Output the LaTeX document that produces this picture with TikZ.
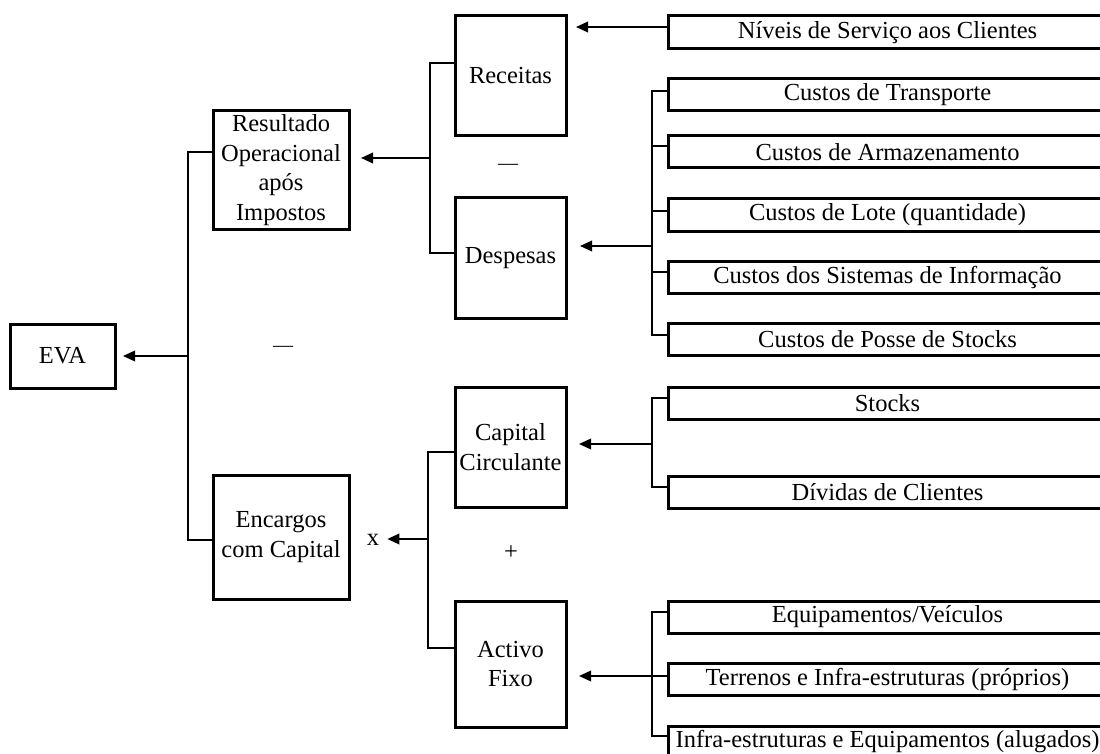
\documentclass[tikz,border=0pt]{standalone}
\usepackage{fontspec}
\setmainfont{Liberation Serif}
\usetikzlibrary{arrows.meta}
\begin{document}
\begin{tikzpicture}[x=1pt,y=-1pt,
  every node/.style={font=\fontsize{24.5}{29.5}\selectfont},
  box/.style={draw, line width=3pt, inner sep=0pt, outer sep=0pt, align=center, anchor=north west},
  item/.style={draw, line width=3pt, inner sep=0pt, outer sep=0pt, anchor=north west,
    minimum width=439pt, minimum height=32pt},
  link/.style={line width=1.3pt},
  arr/.style={line width=2pt, -{Triangle[length=12pt,width=10.5pt]}},
  sign/.style={inner sep=0pt},
]
\useasboundingbox (0,0) rectangle (1100,754);
\clip (0,0) rectangle (1100,754);

% main blocks
\node[box, minimum width=105pt, minimum height=64pt]  (eva)  at (10,324)  {EVA};
\node[box, minimum width=136pt, minimum height=118pt] (res)  at (213,111) {Resultado\\Operacional\\após\\Impostos};
\node[box, minimum width=136pt, minimum height=124pt] (enc)  at (213,475) {Encargos\\com Capital};
\node[box, minimum width=111pt, minimum height=120pt] (rec)  at (455,16)  {Receitas};
\node[box, minimum width=111pt, minimum height=120pt] (desp) at (455,198) {Despesas};
\node[box, minimum width=111pt, minimum height=120pt] (circ) at (455,387) {Capital\\Circulante};
\node[box, minimum width=111pt, minimum height=126pt] (fix)  at (455,601) {Activo\\Fixo};

% drivers
\node[item, minimum height=33pt] (niv) at (668,16) {Níveis de Serviço aos Clientes};
\node[item] (c1) at (668,79)  {Custos de Transporte};
\node[item] (c2) at (668,136) {Custos de Armazenamento};
\node[item] (c3) at (668,199) {Custos de Lote (quantidade)};
\node[item] (c4) at (668,261) {Custos dos Sistemas de Informação};
\node[item] (c5) at (668,323) {Custos de Posse de Stocks};
\node[item] (s1) at (668,387) {Stocks};
\node[item] (s2) at (668,476) {Dívidas de Clientes};
\node[item] (e1) at (668,601) {Equipamentos/Veículos};
\node[item] (e2) at (668,663) {Terrenos e Infra-estruturas (próprios)};
\node[item] (e3) at (668,726) {Infra-estruturas e Equipamentos (alugados)};

% operators
\node[sign, font=\fontsize{20}{24}\selectfont] (m1) at (283,349) {---};
\node[sign, font=\fontsize{20}{24}\selectfont] (m2) at (508,167) {---};
\node[sign] (plus) at (511,553) {+};
\node[sign] (xop)  at (373,540) {x};

% junction points of the brackets
\coordinate (bA) at (188,356);
\coordinate (bB) at (430,158);
\coordinate (bC) at (652,246);
\coordinate (bD) at (652,444);
\coordinate (bE) at (652,676);
\coordinate (bF) at (428,539);

% tick points on the driver boxes
\coordinate (tN)  at ([yshift=5.5pt]niv.west);
\coordinate (tc1) at ([yshift=4pt]c1.west);
\coordinate (tc2) at ([yshift=6pt]c2.west);
\coordinate (tc3) at ([yshift=4pt]c3.west);
\coordinate (tc4) at ([yshift=5pt]c4.west);
\coordinate (tc5) at ([yshift=4pt]c5.west);
\coordinate (ts1) at ([yshift=5pt]s1.west);
\coordinate (ts2) at ([yshift=5pt]s2.west);
\coordinate (te1) at ([yshift=5pt]e1.west);
\coordinate (te2) at ([yshift=3pt]e2.west);
\coordinate (te3) at ([yshift=6pt]e3.west);

% EVA = result - capital charge
\draw[link] ([yshift=18pt]res.west) -| (bA) |- ([yshift=-3pt]enc.west);
\draw[arr, shorten >=8pt] (bA) -- (bA -| eva.east);

% result = revenue - expenses
\draw[link] ([yshift=13pt]rec.west) -| (bB) |- ([yshift=5pt]desp.west);
\draw[arr, shorten >=12pt] (bB) -- (bB -| res.east);

% revenue driver
\draw[arr, shorten >=10pt] (tN) -- (tN -| rec.east);

% expense drivers
\draw[link] (tc1) -| (bC) |- (tc5);
\draw[link] (tc2) -- (tc2 -| bC);
\draw[link] (tc3) -- (tc3 -| bC);
\draw[link] (tc4) -- (tc4 -| bC);
\draw[arr, shorten >=14pt] (bC) -- (bC -| desp.east);

% capital = working capital + fixed assets
\draw[link] ([yshift=-5pt]circ.west) -| (bF) |- ([yshift=16pt]fix.west);
\draw[arr, shorten >=8pt] (bF) -- (bF -| xop.east);

% working capital drivers
\draw[link] (ts1) -| (bD) |- (ts2);
\draw[arr, shorten >=13pt] (bD) -- (bD -| circ.east);

% fixed asset drivers
\draw[link] (te1) -| (bE) |- (te3);
\draw[arr, shorten >=13pt] (te2) -- (te2 -| fix.east);
\end{tikzpicture}
\end{document}
